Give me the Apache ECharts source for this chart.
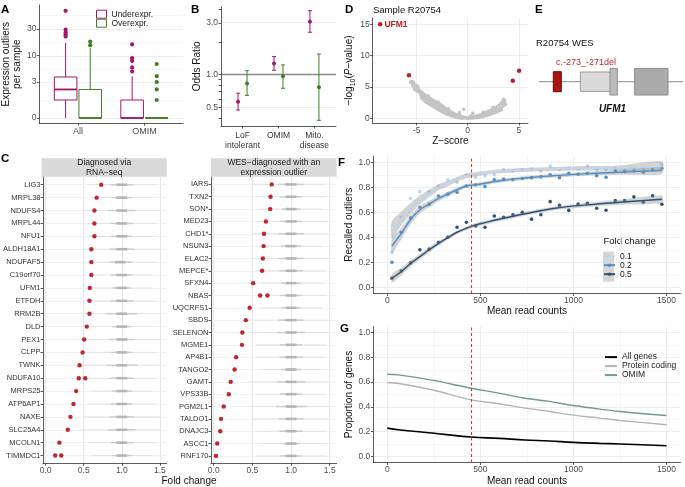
<!DOCTYPE html>
<html>
<head>
<meta charset="utf-8">
<script src="https://cdn.jsdelivr.net/npm/echarts@6.0.0/dist/echarts.min.js"></script>
<style>html,body{margin:0;padding:0;background:#fff;}#chart{width:685px;height:487px;}</style>
</head>
<body>
<div id="chart"></div>
<script>
// ================= DATA =================
// ---- Panel A: expression outliers per sample ----
const aCategories = ['All', 'OMIM'];
const aTickValues = [0, 3, 10, 30];
// [lower whisker, Q1, median, Q3, upper whisker]
const aUnderStats = [[0, 1, 2, 3.85, 17], [0, 0, 0, 1, 4]];
const aOverStats = [[0, 0, 0, 2, 14], [0, 0, 0, 0, 0]];
const aUnderOutliers = [[61, 29, 26, 24, 22], [16, 9, 8, 6, 5]];
const aOverOutliers = [[18, 15.5], [7, 4, 3, 2, 1]];

// ---- Panel B: odds ratios ----
const bCategories = ['LoF\nintolerant', 'OMIM', 'Mito.\ndisease'];
const bTickValues = [0.5, 1, 3];
const bUnderOR = [0.564, 1.27, 3.08];
const bUnderLow = [0.473, 1.10, 2.46];
const bUnderHigh = [0.676, 1.47, 3.89];
const bOverOR = [0.83, 0.966, 0.765];
const bOverLow = [0.645, 0.75, 0.38];
const bOverHigh = [1.09, 1.23, 1.55];

// ---- Panel D: volcano plot (Z-score, -log10 P) ----
const dTickX = [-5, 0, 5];
const dTickY = [0, 5, 10, 15];
const dNullPoints = [
 [-5.5,5.9],[-5.4,5.6],[-5.4,5.2],[-5.3,5.5],[-5.2,5.0],[-5.2,4.6],[-5.1,5.3],[-5.0,4.8],[-5.0,4.4],[-4.9,4.9],
 [-4.8,4.6],[-4.8,4.2],[-4.7,4.4],[-4.6,4.0],[-4.6,3.7],[-4.5,4.2],[-4.4,3.9],[-4.4,3.4],[-4.3,3.6],[-4.2,3.8],
 [-4.2,3.1],[-4.1,3.4],[-4.0,3.5],[-4.0,2.9],[-3.9,3.2],[-3.8,3.3],[-3.8,2.7],[-3.7,3.0],[-3.6,3.1],[-3.6,2.5],
 [-3.5,2.8],[-3.4,2.9],[-3.4,2.3],[-3.3,2.6],[-3.2,2.7],[-3.2,2.0],[-3.1,2.4],[-3.0,2.5],[-3.0,1.8],[-2.9,2.2],
 [-2.8,2.3],[-2.8,1.6],[-2.7,2.0],[-2.6,2.1],[-2.6,1.4],[-2.5,1.8],[-2.4,1.9],[-2.4,1.2],[-2.3,1.6],[-2.2,1.6],
 [-2.2,1.0],[-2.1,1.3],[-2.0,1.4],[-2.0,0.8],[-1.9,1.1],[-1.8,1.2],[-1.8,0.7],[-1.7,0.9],[-1.6,1.0],[-1.6,0.5],
 [-1.5,0.75],[-1.4,0.8],[-1.4,0.4],[-1.3,0.6],[-1.2,0.65],[-1.2,0.3],[-1.1,0.5],[-1.0,0.5],[-1.0,0.2],[-0.9,0.35],
 [-0.8,0.4],[-0.8,0.15],[-0.7,0.25],[-0.6,0.3],[-0.6,0.08],[-0.5,0.18],[-0.4,0.2],[-0.4,1.45],[-0.3,0.1],[-0.2,0.08],
 [-0.1,0.03],[0.0,0.0],[0.1,0.04],[0.2,0.08],[0.3,0.05],[0.4,0.15],[0.5,0.1],[0.6,0.25],[0.7,0.15],[0.8,0.35],
 [0.9,0.22],[1.0,0.45],[1.1,0.3],[1.2,0.55],[1.3,0.38],[1.4,0.68],[1.5,0.45],[1.6,0.8],[1.7,0.55],[1.8,0.95],
 [1.9,0.65],[2.0,1.1],[2.1,0.8],[2.2,1.25],[2.3,0.95],[2.4,1.45],[2.5,1.1],[2.6,1.6],[2.7,1.2],[2.8,1.8],
 [2.9,1.4],[3.0,2.0],[3.1,1.55],[3.2,2.3],[3.3,1.7],[3.4,2.6],[3.5,2.0],[3.5,3.05],[3.6,2.9],[3.7,2.2],
 [-4.5,3.2],[-4.3,2.9],[-4.1,2.6],[-3.9,2.4],[-3.7,2.2],[-3.5,2.0],[-3.3,1.8],[-3.1,1.6],[-2.9,1.4],[-2.7,1.2],
 [-2.5,1.0],[-2.3,0.9],[-2.1,0.7],[-1.9,0.6],[-1.7,0.45],[-1.5,0.35],[-1.3,0.25],[-1.1,0.15],[-0.9,0.1],[-0.7,0.05],
 [-0.5,0.02],[0.6,0.05],[0.9,0.1],[1.1,0.15],[1.3,0.2],[1.5,0.3],[1.7,0.4],[1.9,0.45],[2.1,0.55],[2.3,0.7],
 [2.5,0.8],[2.7,0.95],[2.9,1.05],[3.1,1.2],[3.3,1.35],[-5.3,5.8],[-5.6,5.7],[-4.9,5.1],[-3.9,3.6],[-2.9,2.6],
 [-1.9,1.5],[1.5,0.95],[2.5,1.75],[3.3,2.4],[3.6,2.5],[0.5,0.8],[-0.8,0.9],[0.3,0.4]
];
const dOutlierZ = [-8.57, -5.75, 4.41, 5.03];
const dOutlierP = [15.0, 6.85, 5.99, 7.58];
const dOutlierLabels = ['UFM1', '', '', ''];

// ---- Panel E: UFM1 gene model ----
const eGeneSpan = [0, 144];
const eExonStart = [14.3, 41.3, 71.0, 95.7];
const eExonEnd = [22.3, 71.7, 78.3, 129.0];
const eExonKind = ['variant', 'utr', 'cds', 'cds2'];

// ---- Panel C: fold changes ----
const cLeftGenes = ['LIG3','MRPL38','NDUFS4','MRPL44','NFU1','ALDH18A1','NDUFAF5','C19orf70','UFM1','ETFDH','RRM2B',
  'DLD','PEX1','CLPP','TWNK','NDUFA10','MRPS25','ATP6AP1','NAXE','SLC25A4','MCOLN1','TIMMDC1'];
const cLeftFC = [[0.73],[0.67],[0.64],[0.64],[0.64],[0.60],[0.60],[0.60],[0.58],[0.575],[0.575],
  [0.54],[0.505],[0.485],[0.445],[0.435,0.52],[0.40],[0.365],[0.325],[0.29],[0.18],[0.125,0.205]];
// grey background distribution per gene: [low, q1, median, q3, high]
const cLeftNull = [
 [0.55,0.85,1.0,1.15,1.45],[0.6,0.87,1.0,1.13,1.4],[0.5,0.82,1.0,1.18,1.5],[0.55,0.85,1.0,1.15,1.45],
 [0.55,0.86,1.0,1.14,1.45],[0.5,0.84,1.0,1.16,1.5],[0.55,0.84,0.98,1.14,1.45],[0.6,0.86,1.0,1.14,1.4],
 [0.6,0.88,1.0,1.12,1.4],[0.55,0.85,1.0,1.15,1.45],[0.5,0.8,1.0,1.2,1.5],[0.6,0.88,1.0,1.12,1.4],
 [0.5,0.83,1.0,1.17,1.5],[0.55,0.86,1.0,1.14,1.45],[0.45,0.8,1.0,1.2,1.5],[0.55,0.85,1.0,1.15,1.45],
 [0.6,0.87,1.0,1.13,1.4],[0.55,0.86,1.0,1.14,1.45],[0.5,0.84,1.0,1.16,1.5],[0.45,0.82,1.0,1.18,1.5],
 [0.55,0.85,1.0,1.15,1.45],[0.6,0.87,1.0,1.13,1.4]
];
const cRightGenes = ['IARS','TXN2','SON*','MED23','CHD1*','NSUN3','ELAC2','MEPCE*','SFXN4','NBAS','UQCRFS1',
  'SBDS','SELENON','MGME1','AP4B1','TANGO2','GAMT','VPS33B','PGM2L1','TALDO1','DNAJC3','ASCC1','RNF170'];
const cRightFC = [[0.75],[0.735],[0.73],[0.675],[0.65],[0.645],[0.635],[0.625],[0.51],[0.60,0.695],[0.465],
  [0.415],[0.37],[0.365],[0.29],[0.27],[0.22],[0.195],[0.13],[0.095],[0.085],[0.045],[0.03]];
const cRightNull = [
 [0.5,0.83,1.0,1.17,1.45],[0.55,0.86,1.0,1.14,1.45],[0.6,0.88,1.0,1.12,1.4],[0.55,0.86,1.0,1.14,1.45],
 [0.5,0.84,1.0,1.16,1.5],[0.6,0.87,1.0,1.13,1.4],[0.5,0.83,1.0,1.17,1.5],[0.55,0.85,1.0,1.15,1.45],
 [0.6,0.87,1.0,1.13,1.4],[0.55,0.86,1.0,1.14,1.45],[0.6,0.88,1.0,1.12,1.4],[0.5,0.84,1.0,1.16,1.5],
 [0.5,0.82,1.0,1.18,1.5],[0.55,0.86,1.0,1.14,1.45],[0.55,0.85,1.0,1.15,1.45],[0.6,0.87,1.0,1.13,1.4],
 [0.45,0.82,1.0,1.18,1.5],[0.55,0.86,1.0,1.14,1.45],[0.45,0.8,1.0,1.2,1.5],[0.5,0.84,1.0,1.16,1.5],
 [0.55,0.85,1.0,1.15,1.45],[0.6,0.88,1.0,1.12,1.4],[0.55,0.86,1.0,1.14,1.45]
];
const cTickValues = [0, 0.5, 1, 1.5];

// ---- Panel F: recalled outliers vs mean read counts ----
const fTickX = [0, 500, 1000, 1500];
const fTickY = [0, 0.2, 0.4, 0.6, 0.8, 1.0];
const fFoldChanges = ['0.1', '0.2', '0.5'];
const fPointX = [25,75,125,175,225,275,325,375,425,475,525,575,625,675,725,775,825,875,925,975,1025,1075,1125,1175,1225,1275,1325,1375,1425,1475];
const fPoints01 = [0.28,0.56,0.71,0.765,0.765,0.81,0.86,0.84,0.90,0.88,0.89,0.90,0.94,0.93,0.94,0.945,0.93,0.97,0.94,0.95,0.945,0.97,0.94,0.945,0.95,0.94,0.95,0.955,0.95,0.98];
const fPoints02 = [0.20,0.44,0.555,0.64,0.665,0.73,0.745,0.76,0.81,0.82,0.805,0.86,0.865,0.86,0.87,0.877,0.885,0.90,0.877,0.912,0.904,0.912,0.893,0.88,0.93,0.925,0.93,0.92,0.939,0.952];
const fPoints05 = [0.072,0.13,0.195,0.30,0.305,0.36,0.40,0.48,0.52,0.49,0.48,0.57,0.56,0.58,0.60,0.545,0.58,0.685,0.655,0.615,0.665,0.672,0.632,0.616,0.693,0.693,0.723,0.68,0.731,0.664];
const fFitX = [25,75,125,175,225,275,325,375,425,475,525,575,625,675,725,900,1075,1250,1475];
const fFit01 = [0.46,0.55,0.63,0.70,0.75,0.80,0.83,0.865,0.89,0.905,0.915,0.925,0.93,0.935,0.939,0.947,0.952,0.953,0.968];
const fFit02 = [0.33,0.43,0.54,0.62,0.665,0.71,0.745,0.78,0.81,0.82,0.832,0.845,0.855,0.865,0.872,0.893,0.909,0.92,0.935];
const fFit05 = [0.072,0.125,0.19,0.245,0.30,0.35,0.397,0.44,0.472,0.499,0.517,0.536,0.552,0.568,0.584,0.632,0.659,0.68,0.704];
const fSe01 = [0.07,0.055,0.045,0.035,0.03,0.025,0.022,0.02,0.018,0.017,0.016,0.016,0.016,0.016,0.016,0.016,0.018,0.022,0.04];
const fSe02 = [0.06,0.045,0.035,0.03,0.025,0.022,0.02,0.018,0.016,0.015,0.015,0.015,0.015,0.015,0.015,0.015,0.016,0.02,0.03];
const fSe05 = [0.035,0.03,0.025,0.022,0.02,0.018,0.016,0.015,0.015,0.015,0.015,0.015,0.015,0.015,0.015,0.015,0.016,0.02,0.03];
const readCutoff = 450;

// ---- Panel G: proportion of genes ----
const gX = [0, 60, 240, 450, 600, 740, 870, 1000, 1140, 1250, 1500];
const gAll = [0.228, 0.215, 0.188, 0.156, 0.145, 0.132, 0.124, 0.113, 0.105, 0.100, 0.086];
const gProtein = [0.597, 0.589, 0.538, 0.457, 0.425, 0.390, 0.363, 0.333, 0.309, 0.290, 0.255];
const gOmim = [0.664, 0.659, 0.616, 0.551, 0.511, 0.470, 0.444, 0.411, 0.382, 0.363, 0.330];

// ================= STYLE / HELPERS =================
const FF = '"Liberation Sans", Arial, sans-serif';
const UC = '#a5156f', OC = '#3e7f26';
const RED = '#b81f29';
const CUT = '#d13b3b';
const FCOL = ['#bcd6f0', '#4b8fcc', '#2d5275'];
const GCOL = ['#000000', '#b3b3b3', '#6b9e88'];
const ty = v => Math.log10(v + 1);
const lg = v => Math.log10(v);
const AL = {show: true, onZero: false, lineStyle: {color: '#333', width: 0.8}};
const AT = {show: true, length: 2.5, lineStyle: {color: '#333', width: 0.8}};
const LB = {color: '#4d4d4d', fontSize: 8, fontFamily: FF, margin: 3};
const NAME = {fontFamily: FF, fontSize: 10, color: '#111'};
const GRIDC = '#e8e8e8', MINC = '#f3f3f3';
const DOT = c => ({color: c, opacity: 1, borderWidth: 0});

function vAxis(grid, min, max, tickVals, labelVals, fmt, labelExtra, extra) {
  return Object.assign({
    gridIndex: grid, type: 'value', min: min, max: max,
    axisLine: AL,
    axisTick: Object.assign({}, AT, {customValues: tickVals}),
    axisLabel: Object.assign({}, LB, {customValues: labelVals, formatter: fmt}, labelExtra || {}),
    splitLine: {show: false}
  }, extra || {});
}
function gridSeries(idx, lines, z, style) {
  return {type: 'line', xAxisIndex: idx, yAxisIndex: idx, data: [], silent: true, z: z || 0,
    markLine: {silent: true, z: z || 0, symbol: ['none', 'none'], label: {show: false}, animation: false,
      lineStyle: style || {color: GRIDC, width: 0.8, type: 'solid'},
      emphasis: {disabled: true}, data: lines}};
}
const hl = (v, c, w, t) => ({yAxis: v, lineStyle: {color: c || GRIDC, width: w || 0.8, type: t || 'solid'}});
const vl = (v, c, w, t) => ({xAxis: v, lineStyle: {color: c || GRIDC, width: w || 0.8, type: t || 'solid'}});
const mids = arr => arr.slice(1).map((v, i) => (v + arr[i]) / 2);

function boxRender(color) {
  return function (params, api) {
    const x = api.value(0), hw = 0.17;
    const pLo = api.coord([x, api.value(1)]), pQ1 = api.coord([x, api.value(2)]);
    const pQ3 = api.coord([x, api.value(4)]), pHi = api.coord([x, api.value(5)]);
    const tl = api.coord([x - hw, api.value(4)]), br = api.coord([x + hw, api.value(2)]);
    const mL = api.coord([x - hw, api.value(3)]), mR = api.coord([x + hw, api.value(3)]);
    return {type: 'group', children: [
      {type: 'line', shape: {x1: pLo[0], y1: pLo[1], x2: pQ1[0], y2: pQ1[1]}, style: {stroke: color, lineWidth: 1}},
      {type: 'line', shape: {x1: pQ3[0], y1: pQ3[1], x2: pHi[0], y2: pHi[1]}, style: {stroke: color, lineWidth: 1}},
      {type: 'rect', shape: {x: tl[0], y: tl[1], width: br[0] - tl[0], height: br[1] - tl[1]}, style: {fill: '#fff', stroke: color, lineWidth: 1}},
      {type: 'line', shape: {x1: mL[0], y1: mL[1], x2: mR[0], y2: mR[1]}, style: {stroke: color, lineWidth: 1.8}}
    ]};
  };
}
function errRender(color) {
  return function (params, api) {
    const x = api.value(0);
    const a = api.coord([x, api.value(1)]), b = api.coord([x, api.value(2)]), cw = 2;
    const st = {stroke: color, lineWidth: 1};
    return {type: 'group', children: [
      {type: 'line', shape: {x1: a[0], y1: a[1], x2: b[0], y2: b[1]}, style: st},
      {type: 'line', shape: {x1: a[0] - cw, y1: a[1], x2: a[0] + cw, y2: a[1]}, style: st},
      {type: 'line', shape: {x1: b[0] - cw, y1: b[1], x2: b[0] + cw, y2: b[1]}, style: st}
    ]};
  };
}
function nullRender(params, api) {
  const row = api.value(0);
  const p = x => api.coord([x, row]);
  const a = p(api.value(1)), b = p(api.value(5)), c = p(api.value(2)), d = p(api.value(4));
  const e = p(api.value(3) - 0.07), f = p(api.value(3) + 0.07);
  return {type: 'group', children: [
    {type: 'line', shape: {x1: a[0], y1: a[1], x2: b[0], y2: b[1]}, style: {stroke: '#dedede', lineWidth: 0.8}},
    {type: 'line', shape: {x1: c[0], y1: c[1], x2: d[0], y2: d[1]}, style: {stroke: '#cdcdcd', lineWidth: 1.5}},
    {type: 'line', shape: {x1: e[0], y1: e[1], x2: f[0], y2: f[1]}, style: {stroke: '#b5b5b5', lineWidth: 2.6}}
  ]};
}
const EX_STYLE = {
  variant: {fill: '#a8160f', stroke: '#6e0a05', h: 0.5},
  utr: {fill: '#dadada', stroke: '#9b9b9b', h: 0.485},
  cds: {fill: '#bcbcbc', stroke: '#8f8f8f', h: 0.665},
  cds2: {fill: '#ababab', stroke: '#8a8a8a', h: 0.665}
};
function exonRender(params, api) {
  const s = EX_STYLE[eExonKind[params.dataIndex]];
  const tl = api.coord([api.value(0), s.h]), br = api.coord([api.value(1), -s.h]);
  return {type: 'rect', shape: {x: tl[0], y: tl[1], width: br[0] - tl[0], height: br[1] - tl[1]},
    style: {fill: s.fill, stroke: s.stroke, lineWidth: 1}};
}

// ================= BUILD =================
const aUnderX = aCategories.map((c, i) => i + 1 - 0.185);
const aOverX = aCategories.map((c, i) => i + 1 + 0.185);
const aMajor = aTickValues.map(ty);
const aMinor = mids(aMajor).concat([aMajor[3] + (aMajor[3] - aMajor[2]) / 2]);
const bX = bCategories.map((c, i) => i + 1);
const bLogTicks = [0.4, 0.5, 0.6, 0.7, 0.8, 0.9, 1, 2, 3, 4];

const series = [];
// --- A ---
series.push(gridSeries(0, aMajor.map(v => hl(v)).concat(aMinor.map(v => hl(v, MINC)))));
series.push({type: 'custom', name: 'Underexpr.', xAxisIndex: 0, yAxisIndex: 0, z: 2, renderItem: boxRender(UC),
  data: aUnderStats.map((s, i) => [aUnderX[i]].concat(s.map(ty))), encode: {x: 0, y: [1, 2, 3, 4, 5]}});
series.push({type: 'custom', name: 'Overexpr.', xAxisIndex: 0, yAxisIndex: 0, z: 2, renderItem: boxRender(OC),
  data: aOverStats.map((s, i) => [aOverX[i]].concat(s.map(ty))), encode: {x: 0, y: [1, 2, 3, 4, 5]}});
series.push({type: 'scatter', name: 'Underexpr.', xAxisIndex: 0, yAxisIndex: 0, z: 3, symbolSize: 4.2, itemStyle: DOT(UC),
  data: [].concat(...aUnderOutliers.map((arr, i) => arr.map(v => [aUnderX[i], ty(v)])))});
series.push({type: 'scatter', name: 'Overexpr.', xAxisIndex: 0, yAxisIndex: 0, z: 3, symbolSize: 4.2, itemStyle: DOT(OC),
  data: [].concat(...aOverOutliers.map((arr, i) => arr.map(v => [aOverX[i], ty(v)])))});
// --- B ---
series.push(gridSeries(1, [hl(lg(0.5)), hl(lg(3)), hl(0, '#8a8a8a', 1.4)]));
series.push({type: 'custom', xAxisIndex: 1, yAxisIndex: 1, z: 2, renderItem: errRender(UC),
  data: bX.map((x, i) => [x - 0.125, lg(bUnderLow[i]), lg(bUnderHigh[i])]), encode: {x: 0, y: [1, 2]}});
series.push({type: 'custom', xAxisIndex: 1, yAxisIndex: 1, z: 2, renderItem: errRender(OC),
  data: bX.map((x, i) => [x + 0.125, lg(bOverLow[i]), lg(bOverHigh[i])]), encode: {x: 0, y: [1, 2]}});
series.push({type: 'scatter', xAxisIndex: 1, yAxisIndex: 1, z: 3, symbolSize: 4, itemStyle: DOT(UC),
  data: bX.map((x, i) => [x - 0.125, lg(bUnderOR[i])])});
series.push({type: 'scatter', xAxisIndex: 1, yAxisIndex: 1, z: 3, symbolSize: 4, itemStyle: DOT(OC),
  data: bX.map((x, i) => [x + 0.125, lg(bOverOR[i])])});
// --- D ---
series.push(gridSeries(2, dTickX.map(v => vl(v)).concat(dTickY.map(v => hl(v)))));
series.push({type: 'scatter', xAxisIndex: 2, yAxisIndex: 2, z: 2, symbolSize: 3.6,
  itemStyle: DOT('#c4c4c4'), data: dNullPoints});
series.push({type: 'scatter', xAxisIndex: 2, yAxisIndex: 2, z: 3, symbolSize: 4.5, itemStyle: DOT(RED),
  data: dOutlierZ.map((z, i) => ({value: [z, dOutlierP[i]],
    label: {show: dOutlierLabels[i] !== '', formatter: dOutlierLabels[i], position: 'right', distance: 2,
      color: RED, fontWeight: 'bold', fontSize: 8.5, fontFamily: FF}}))});
// --- E ---
series.push({type: 'line', xAxisIndex: 3, yAxisIndex: 3, z: 1, symbol: 'none', silent: true,
  lineStyle: {color: '#8c8c8c', width: 1}, data: eGeneSpan.map(x => [x, 0])});
series.push({type: 'custom', xAxisIndex: 3, yAxisIndex: 3, z: 2, renderItem: exonRender,
  data: eExonStart.map((s, i) => [s, eExonEnd[i]]), encode: {x: [0, 1]}});
// --- C left / right ---
function cPanel(idx, genes, fc, nulls) {
  series.push(gridSeries(idx, cTickValues.map(v => vl(v, '#dedede')).concat(genes.map((g, i) => hl(i + 1, '#ededed')))));
  series.push({type: 'custom', xAxisIndex: idx, yAxisIndex: idx, z: 2, renderItem: nullRender,
    data: nulls.map((r, i) => [i + 1].concat(r)), encode: {x: [1, 2, 3, 4, 5], y: 0}});
  series.push({type: 'scatter', xAxisIndex: idx, yAxisIndex: idx, z: 3, symbolSize: 4.4, itemStyle: DOT('#c0262d'),
    data: [].concat(...fc.map((arr, i) => arr.map(v => [v, i + 1])))});
}
cPanel(4, cLeftGenes, cLeftFC, cLeftNull);
cPanel(5, cRightGenes, cRightFC, cRightNull);
// --- F ---
series.push(gridSeries(6, fTickX.map(v => vl(v)).concat(mids(fTickX).map(v => vl(v, MINC)))
  .concat(fTickY.map(v => hl(v))).concat(mids(fTickY).map(v => hl(v, MINC)))));
const fPts = [fPoints01, fPoints02, fPoints05];
const fFits = [fFit01, fFit02, fFit05];
const fSes = [fSe01, fSe02, fSe05];
fFoldChanges.forEach((name, k) => {
  series.push({type: 'scatter', xAxisIndex: 6, yAxisIndex: 6, z: 2, symbolSize: 3.6, itemStyle: DOT(FCOL[k]),
    data: fPointX.map((x, i) => [x, fPts[k][i]])});
});
function ribbonRender(k) {
  return function (params, api) {
    if (params.dataIndex !== 0) return null;
    const up = fFitX.map((x, i) => api.coord([x, fFits[k][i] + fSes[k][i]]));
    const lo = fFitX.map((x, i) => api.coord([x, fFits[k][i] - fSes[k][i]])).reverse();
    return {type: 'polygon', shape: {points: up.concat(lo), smooth: 0.25},
      style: {fill: 'rgba(150,150,150,0.42)'}};
  };
}
fFoldChanges.forEach((name, k) => {
  series.push({type: 'custom', xAxisIndex: 6, yAxisIndex: 6, z: 3, silent: true, renderItem: ribbonRender(k),
    data: fFitX.map((x, i) => [x, fFits[k][i]]), encode: {x: 0, y: 1}});
});
fFoldChanges.forEach((name, k) => {
  series.push({type: 'line', name: name, xAxisIndex: 6, yAxisIndex: 6, z: 4, smooth: 0.4, symbol: 'circle', symbolSize: 3.5,
    showSymbol: false, itemStyle: {color: FCOL[k]}, lineStyle: {color: FCOL[k], width: 1.4},
    data: fFitX.map((x, i) => [x, fFits[k][i]])});
});
const cutStyle = {color: CUT, width: 1.1, type: [3, 2.5]};
series.push(gridSeries(6, [{xAxis: readCutoff, lineStyle: cutStyle}], 6, cutStyle));
// --- G ---
series.push(gridSeries(7, fTickX.map(v => vl(v)).concat(mids(fTickX).map(v => vl(v, MINC)))
  .concat(fTickY.map(v => hl(v))).concat(mids(fTickY).map(v => hl(v, MINC)))));
[['All genes', gAll], ['Protein coding', gProtein], ['OMIM', gOmim]].forEach((s, k) => {
  series.push({type: 'line', name: s[0], xAxisIndex: 7, yAxisIndex: 7, z: 3, smooth: 0.4, symbol: 'none',
    lineStyle: {color: GCOL[k], width: k === 0 ? 1.6 : 1.4}, itemStyle: {color: GCOL[k]},
    data: gX.map((x, i) => [x, s[1][i]])});
});
series.push(gridSeries(7, [{xAxis: readCutoff, lineStyle: cutStyle}], 6, cutStyle));

// ---- axes ----
const f1 = v => v.toFixed(1);
const xAxes = [
  vAxis(0, 0.42, 2.58, [1, 2], [1, 2], v => aCategories[Math.round(v) - 1], {fontSize: 9, margin: 4}),
  vAxis(1, 0.4, 3.6, bX, bX, v => bCategories[Math.round(v) - 1], {fontSize: 8.5, lineHeight: 10.5, margin: 4, color: '#333'}),
  vAxis(2, -9.3, 5.9, dTickX, dTickX, v => String(v), {fontSize: 8.5},
    {name: 'Z\u2212score', nameLocation: 'middle', nameGap: 13, nameTextStyle: NAME}),
  {gridIndex: 3, type: 'value', min: eGeneSpan[0], max: eGeneSpan[1], show: false},
  vAxis(4, -0.035, 1.59, cTickValues, cTickValues, f1, {fontSize: 8.5}),
  vAxis(5, -0.035, 1.59, cTickValues, cTickValues, f1, {fontSize: 8.5}),
  vAxis(6, -75, 1575, fTickX, fTickX, v => String(v), {fontSize: 8.5},
    {name: 'Mean read counts', nameLocation: 'middle', nameGap: 12.5, nameTextStyle: NAME}),
  vAxis(7, -75, 1575, fTickX, fTickX, v => String(v), {fontSize: 8.5},
    {name: 'Mean read counts', nameLocation: 'middle', nameGap: 13.5, nameTextStyle: NAME})
];
const yAxes = [
  vAxis(0, -0.089, 1.89, aMajor, aMajor, v => String(Math.round(Math.pow(10, v) - 1)), {fontSize: 8.5},
    {name: 'Expression outliers\nper sample', nameLocation: 'middle', nameGap: 13.5,
      nameTextStyle: Object.assign({}, NAME, {lineHeight: 11})}),
  vAxis(1, lg(0.337), lg(4.23), bLogTicks.map(lg), bTickValues.map(lg), v => Math.pow(10, v).toFixed(1), {fontSize: 8.5},
    {name: 'Odds Ratio', nameLocation: 'middle', nameGap: 18, nameTextStyle: NAME}),
  vAxis(2, -0.75, 16, dTickY, dTickY, v => String(v), {fontSize: 8.5},
    {name: '\u2212log{sub|10}({it|P}\u2212value)', nameLocation: 'middle', nameGap: 12.5,
      nameTextStyle: Object.assign({}, NAME, {lineHeight: 14, rich: {
        sub: {fontSize: 7, lineHeight: 7, verticalAlign: 'bottom', fontFamily: FF, color: '#111'},
        it: {fontStyle: 'italic', fontSize: 10, fontFamily: FF, color: '#111'}}})}),
  {gridIndex: 3, type: 'value', min: -1, max: 1, show: false},
  vAxis(4, 0.4, cLeftGenes.length + 0.6, cLeftGenes.map((g, i) => i + 1), cLeftGenes.map((g, i) => i + 1),
    v => cLeftGenes[Math.round(v) - 1], {fontSize: 7.5, color: '#333', margin: 2.5}, {inverse: true}),
  vAxis(5, 0.4, cRightGenes.length + 0.6, cRightGenes.map((g, i) => i + 1), cRightGenes.map((g, i) => i + 1),
    v => cRightGenes[Math.round(v) - 1], {fontSize: 7.5, color: '#333', margin: 2.5}, {inverse: true}),
  vAxis(6, -0.05, 1.05, fTickY, fTickY, f1, {fontSize: 8.5},
    {name: 'Recalled outliers', nameLocation: 'middle', nameGap: 16.5, nameTextStyle: NAME}),
  vAxis(7, -0.05, 1.05, fTickY, fTickY, f1, {fontSize: 8.5},
    {name: 'Proportion of genes', nameLocation: 'middle', nameGap: 16.5, nameTextStyle: NAME})
];

// ---- decorations (labels, strips) ----
const letter = (t, x, y) => ({type: 'text', x: x, y: y, style: {text: t, fill: '#000', font: 'bold 11.5px ' + FF, align: 'left', verticalAlign: 'middle'}});
const txt = (t, x, y, font, fill, align) => ({type: 'text', x: x, y: y, style: {text: t, fill: fill || '#111', font: font, align: align || 'left', verticalAlign: 'middle', lineHeight: 9.5}});
const graphics = [
  letter('A', 1, 10), letter('B', 191, 10), letter('D', 345, 10), letter('E', 535, 10),
  letter('C', 1, 159), letter('F', 338, 163), letter('G', 340, 329),
  txt('Sample R20754', 373, 10, '9.5px ' + FF),
  txt('R20754 WES', 536, 43.5, '9.5px ' + FF),
  txt('c.-273_-271del', 556, 62.5, '9px ' + FF, '#b5282a'),
  txt('UFM1', 612.5, 109, 'italic bold 10px ' + FF, '#111', 'center'),
  {type: 'rect', shape: {x: 41.7, y: 158.3, width: 125, height: 18.4}, style: {fill: '#d9d9d9'}},
  {type: 'rect', shape: {x: 211, y: 158.3, width: 125.7, height: 18.4}, style: {fill: '#d9d9d9'}},
  txt('Diagnosed via\nRNA\u2212seq', 104.2, 167.5, '8.5px ' + FF, '#1a1a1a', 'center'),
  txt('WES\u2212diagnosed with an\nexpression outlier', 273.8, 167.5, '8.5px ' + FF, '#1a1a1a', 'center'),
  txt('Fold change', 189, 481.5, '10px ' + FF, '#111', 'center'),
  txt('Fold change', 603.5, 241.7, '9.5px ' + FF),
  {type: 'rect', z: 3, shape: {x: 603, y: 251.7, width: 11, height: 30}, style: {fill: '#d6d6d6'}}
];

const option = {
  backgroundColor: '#fff',
  animation: false,
  textStyle: {fontFamily: FF},
  grid: [
    {left: 39, top: 5, width: 144, height: 118.3},
    {left: 221, top: 6.7, width: 115, height: 119.3},
    {left: 372.7, top: 18, width: 155.3, height: 105},
    {left: 539, top: 61.7, width: 144, height: 40},
    {left: 41.7, top: 177, width: 125, height: 286.3},
    {left: 211, top: 177, width: 125.7, height: 286.3},
    {left: 373.3, top: 156, width: 307.2, height: 137.5},
    {left: 373.3, top: 326.5, width: 307.2, height: 136.4}
  ],
  xAxis: xAxes,
  yAxis: yAxes,
  legend: [
    {orient: 'vertical', left: 96, top: 9.7, itemWidth: 10, itemHeight: 8, itemGap: 0, padding: 0,
      textStyle: {fontSize: 8.5, color: '#222', fontFamily: FF},
      data: [{name: 'Underexpr.', icon: 'rect', itemStyle: {color: '#fff', borderColor: UC, borderWidth: 1}},
             {name: 'Overexpr.', icon: 'rect', itemStyle: {color: '#fff', borderColor: OC, borderWidth: 1}}]},
    {orient: 'vertical', left: 603, top: 251.7, itemWidth: 11, itemHeight: 4, itemGap: 0, padding: 0, z: 5,
      textStyle: {fontSize: 8.5, color: '#222', fontFamily: FF}, data: fFoldChanges},
    {orient: 'vertical', left: 605, top: 352.6, itemWidth: 12, itemHeight: 2, itemGap: 0, padding: 0,
      textStyle: {fontSize: 8.5, color: '#222', fontFamily: FF},
      data: [{name: 'All genes', icon: 'rect'}, {name: 'Protein coding', icon: 'rect'}, {name: 'OMIM', icon: 'rect'}]}
  ],
  graphic: graphics,
  series: series
};
const chart = echarts.init(document.getElementById('chart'), null, {renderer: 'canvas'});
chart.setOption(option);
</script>
</body>
</html>
